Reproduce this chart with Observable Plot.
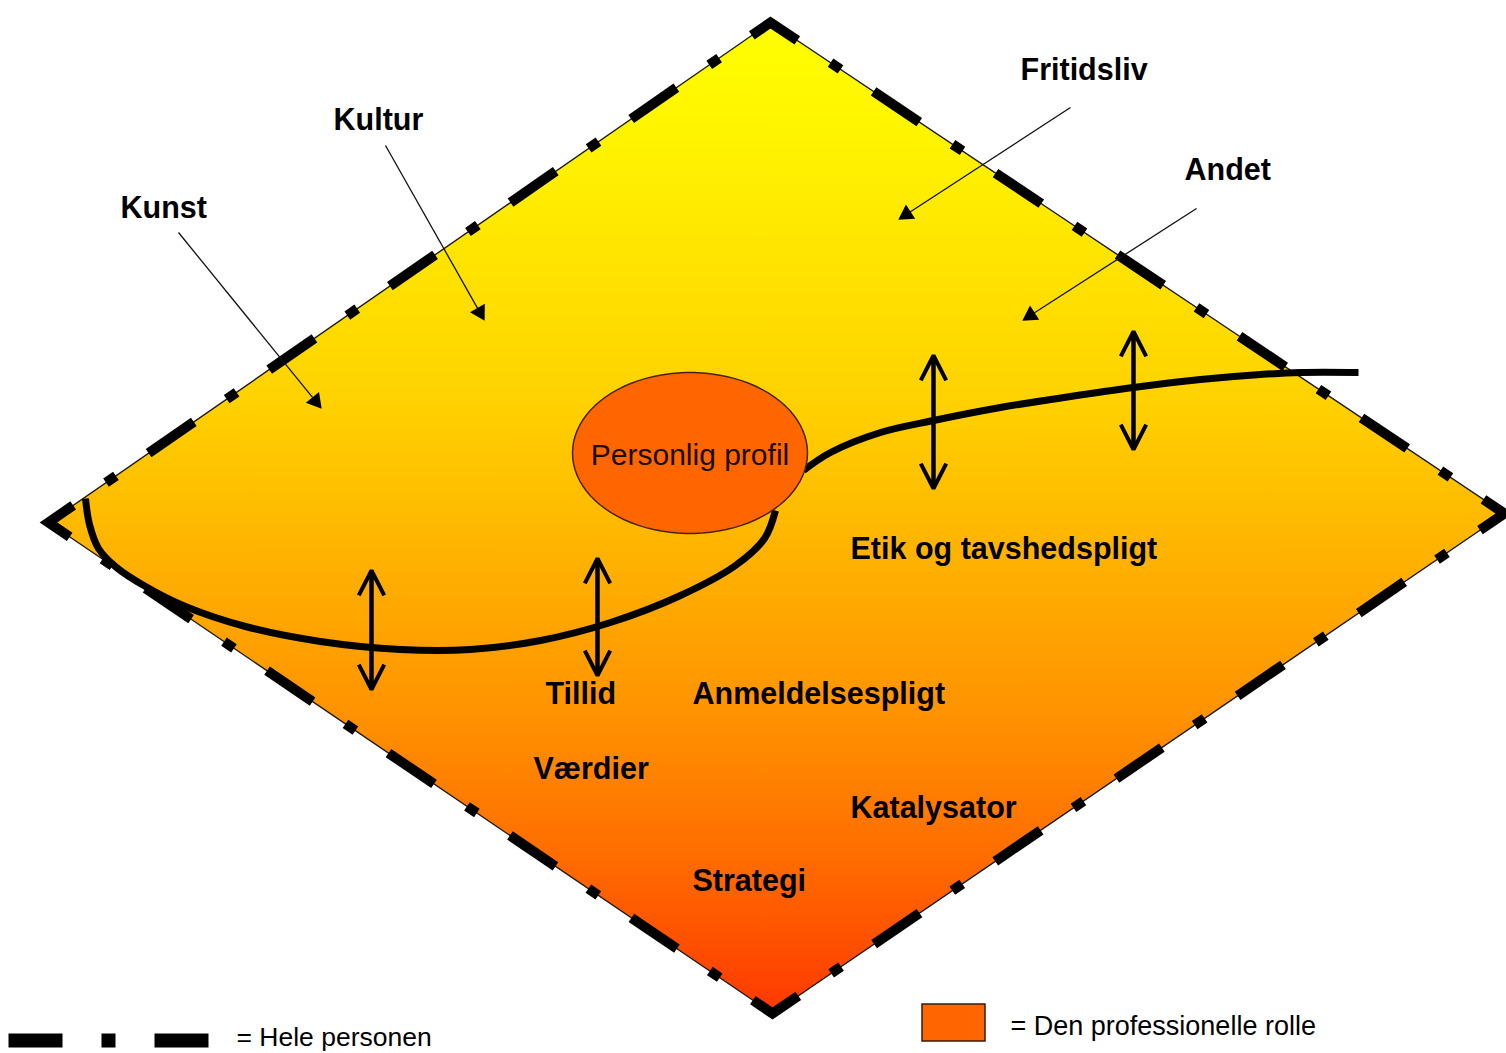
<!DOCTYPE html>
<html>
<head>
<meta charset="utf-8">
<script src="https://cdn.jsdelivr.net/npm/d3@7"></script>
<script src="https://cdn.jsdelivr.net/npm/@observablehq/plot@0.6"></script>
<style>
  body { margin: 0; background: #fff; }
  #chart svg { display: block; }
</style>
</head>
<body>
<div id="chart"></div>
<script>
// ---- Diagram data (pixel space of the 1506 x 1053 picture) ----
const diamondX = [48, 770, 1504, 772];
const diamondY = [522, 22, 513, 1013];

// thick S-shaped "professional role" line, two pieces
const curveLeftX  = [85, 89, 98, 116, 145, 185, 245, 320, 400, 470, 540, 610, 680, 735, 764, 775];
const curveLeftY  = [498, 524, 548, 567, 586, 606, 626, 641, 649, 649, 640, 622, 595, 565, 538, 510];
const curveRightX = [803, 830, 880, 933, 1000, 1070, 1133, 1200, 1260, 1300, 1358];
const curveRightY = [470, 452, 432, 420, 407, 396, 387, 379, 374, 372, 372];

// "Personlig profil" ellipse: centre and radii
const profileCentre = [689.5, 452.5];
const profileRadii = [117.5, 80.5];

// bold labels
const labelText = ["Kunst", "Kultur", "Fritidsliv", "Andet", "Etik og tavshedspligt", "Tillid",
                   "Anmeldelsespligt", "Værdier", "Katalysator", "Strategi"];
const labelX = [120, 333, 1020, 1184, 850, 545, 692, 533, 850, 692];
const labelY = [208, 120, 70, 170, 549, 694, 694, 769, 808, 881];

// thin pointer arrows (from label towards the field)
const pointerFromX = [178, 385, 1070, 1196];
const pointerFromY = [232, 145, 107, 208];
const pointerToX   = [321, 484, 898, 1022];
const pointerToY   = [408, 320, 219, 320];

// vertical double-headed arrows
const doubleX   = [371, 597, 933, 1133];
const doubleTop = [570, 558, 355, 331];
const doubleBot = [689, 675, 488, 449];

// legend
const legendText = ["= Hele personen", "= Den professionelle rolle"];

// ---- Build tables from the arrays ----
const diamond = diamondX.map((x, i) => ({x, y: diamondY[i]}));
const curves = [
  ...curveLeftX.map((x, i) => ({x, y: curveLeftY[i], part: "left"})),
  ...curveRightX.map((x, i) => ({x, y: curveRightY[i], part: "right"}))
];
const ellipse = d3.range(0, 360, 4).map(a => ({
  x: profileCentre[0] + profileRadii[0] * Math.cos(a * Math.PI / 180),
  y: profileCentre[1] + profileRadii[1] * Math.sin(a * Math.PI / 180)
}));
const labels = labelText.map((t, i) => ({t, x: labelX[i], y: labelY[i]}));
const pointers = pointerFromX.map((x, i) => {
  const x2 = pointerToX[i], y2 = pointerToY[i], y1 = pointerFromY[i];
  const len = Math.hypot(x2 - x, y2 - y1);
  const ux = (x2 - x) / len, uy = (y2 - y1) / len;
  return {x1: x, y1, x2, y2,
          hx: x2 - ux * 9.5, hy: y2 - uy * 9.5,
          lx: x2 - ux * 12, ly: y2 - uy * 12,
          angle: Math.atan2(ux, -uy) * 180 / Math.PI};
});
const doubles = doubleX.map((x, i) => ({x, top: doubleTop[i], bot: doubleBot[i]}));

const dash = "55,40,12,39.75";
const font = "Liberation Sans, Arial, sans-serif";

const chart = Plot.plot({
  width: 1506,
  height: 1053,
  margin: 0,
  x: {domain: [0, 1506], range: [0, 1506], axis: null},
  y: {domain: [0, 1053], range: [0, 1053], axis: null},
  style: {background: "white"},
  marks: [
    // gradient diamond with thin outline
    Plot.line(diamond, {x: "x", y: "y", curve: "linear-closed", fill: "url(#diamondFill)",
                        stroke: "#1a1a1a", strokeWidth: 1.4, strokeLinejoin: "miter"}),
    // dash-dot border (whole person)
    Plot.line(diamond, {x: "x", y: "y", curve: "linear-closed", stroke: "black", strokeWidth: 10,
                        strokeDasharray: dash, strokeDashoffset: 25, strokeLinejoin: "miter",
                        strokeLinecap: "butt", strokeMiterlimit: 10}),
    // professional-role line
    Plot.line(curves, {x: "x", y: "y", z: "part", curve: "catmull-rom", stroke: "black",
                       strokeWidth: 7, strokeLinecap: "butt"}),
    // personal profile ellipse
    Plot.line(ellipse, {x: "x", y: "y", curve: "linear-closed", fill: "#FF6600",
                        stroke: "#4a2200", strokeWidth: 1.5}),
    Plot.text(["Personlig profil"], {x: profileCentre[0], y: profileCentre[1] + 2, text: d => d,
                        fontSize: 30, fontFamily: font, fill: "#1a0d00",
                        textAnchor: "middle", lineAnchor: "middle"}),
    // double arrows
    Plot.arrow(doubles, {x1: "x", y1: "bot", x2: "x", y2: "top", stroke: "black", strokeWidth: 4,
                         headLength: 10.5, headAngle: 54, strokeLinecap: "butt"}),
    Plot.arrow(doubles, {x1: "x", y1: "top", x2: "x", y2: "bot", stroke: "black", strokeWidth: 4,
                         headLength: 10.5, headAngle: 54, strokeLinecap: "butt"}),
    // thin pointer arrows
    Plot.link(pointers, {x1: "x1", y1: "y1", x2: "lx", y2: "ly", stroke: "#111", strokeWidth: 1.3}),
    Plot.dot(pointers, {x: "hx", y: "hy", symbol: "triangle", r: 6.3, rotate: "angle",
                        fill: "black", stroke: "none"}),
    // labels
    Plot.text(labels, {x: "x", y: "y", text: "t", textAnchor: "start", lineAnchor: "middle",
                       fontSize: 30.5, fontWeight: "bold", fill: "black", fontFamily: font}),
    // legend: dash pattern sample
    Plot.link([{x1: 8, x2: 212, y: 1040}], {x1: "x1", x2: "x2", y1: "y", y2: "y", stroke: "black",
                       strokeWidth: 14, strokeDasharray: "54,39,14,39", strokeLinecap: "butt"}),
    Plot.text([legendText[0]], {x: 236, y: 1037, text: d => d, textAnchor: "start", lineAnchor: "middle",
                       fontSize: 26.5, fill: "black", fontFamily: font}),
    // legend: professional role swatch
    Plot.rect([{x1: 922, x2: 985, y1: 1004, y2: 1041}], {x1: "x1", x2: "x2", y1: "y1", y2: "y2",
                       fill: "#FF6600", stroke: "#3a1a00", strokeWidth: 1.5}),
    Plot.text([legendText[1]], {x: 1010, y: 1026, text: d => d, textAnchor: "start", lineAnchor: "middle",
                       fontSize: 27, fill: "black", fontFamily: font})
  ]
});

// vertical yellow -> orange-red gradient for the diamond
const svg = d3.select(chart);
const grad = svg.insert("defs", ":first-child")
  .append("linearGradient")
  .attr("id", "diamondFill")
  .attr("x1", 0).attr("y1", 0).attr("x2", 0).attr("y2", 1);
[[0, "#FFFF00"], [0.12, "#FFF300"], [0.38, "#FFD200"], [0.5, "#FFBA00"],
 [0.7, "#FF9200"], [0.85, "#FF6A00"], [1, "#FF3800"]].forEach(([o, c]) =>
  grad.append("stop").attr("offset", o).attr("stop-color", c));

document.getElementById("chart").append(chart);
</script>
</body>
</html>
